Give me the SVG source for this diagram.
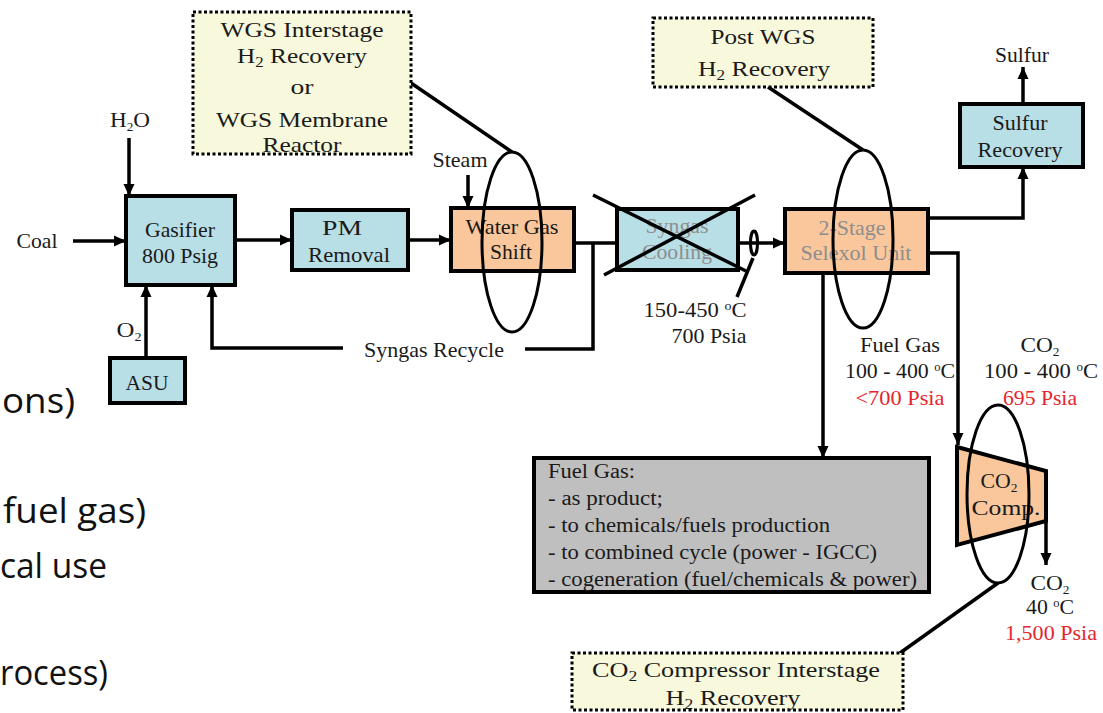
<svg xmlns="http://www.w3.org/2000/svg" width="1103" height="713" viewBox="0 0 1103 713">
<defs>
<marker id="ah" markerUnits="userSpaceOnUse" markerWidth="14" markerHeight="12" refX="12" refY="6" orient="auto">
<path d="M0,0.5 L12,6 L0,11.5 z" fill="#000"/>
</marker>
<style>
text{font-family:"Liberation Serif","Times New Roman",serif;fill:#1a1a1a}
.t{font-size:21px;text-anchor:middle}
.s{font-size:20px}
.red{fill:#e3262c}
.gr{fill:#8e8e8e}
.box{stroke:#000;stroke-width:4}
.teal{fill:#b8dee6}
.peach{fill:#f9c79b}
.note{fill:#f7f8dc;stroke:#000;stroke-width:3;stroke-dasharray:3 2.5}
.ln{fill:none;stroke:#000;stroke-width:3.5}
.ar{fill:none;stroke:#000;stroke-width:3.5;marker-end:url(#ah)}
.el{fill:none;stroke:#000;stroke-width:3}
.side{font-family:"Open Sans","Noto Sans",sans-serif;font-size:34px;fill:#111}
</style>
</defs>
<rect width="1103" height="713" fill="#fff"/>

<g id="side-text">
<text class="side" x="2" y="413" textLength="73" lengthAdjust="spacingAndGlyphs">ons)</text>
<text class="side" x="3" y="523" textLength="143" lengthAdjust="spacingAndGlyphs">fuel gas)</text>
<text class="side" x="0" y="578" textLength="107" lengthAdjust="spacingAndGlyphs">cal use</text>
<text class="side" x="0" y="685" textLength="108" lengthAdjust="spacingAndGlyphs">rocess)</text>
</g>

<g id="connectors">
<line class="ar" x1="73" y1="241" x2="126" y2="241"/>
<line class="ar" x1="129" y1="138" x2="129" y2="196"/>
<line class="ar" x1="146" y1="358" x2="146" y2="285"/>
<polyline class="ar" points="343,348 212,348 212,285"/>
<line class="ar" x1="235" y1="240" x2="292" y2="240"/>
<line class="ar" x1="408" y1="240" x2="451" y2="240"/>
<line class="ar" x1="468" y1="175" x2="468" y2="208"/>
<line class="ln" x1="574" y1="243" x2="617" y2="243"/>
<polyline class="ln" points="525,349 593,349 593,243"/>
<line class="ar" x1="738" y1="243" x2="785" y2="243"/>
<polyline class="ar" points="928,218 1023,218 1023,167"/>
<line class="ar" x1="1023" y1="104" x2="1023" y2="67"/>
<line class="ar" x1="823" y1="273" x2="823" y2="458"/>
<polyline class="ar" points="928,253 958,253 958,445"/>
<line class="ar" x1="1046" y1="521" x2="1046" y2="565"/>
<line class="ln" x1="411" y1="83" x2="512" y2="152" stroke-width="3"/>
<line class="ln" x1="768" y1="87" x2="863" y2="150" stroke-width="3"/>
<line class="ln" x1="998" y1="583" x2="900" y2="653" stroke-width="3"/>
<line class="ln" x1="753" y1="258" x2="737" y2="297" stroke-width="2"/>
</g>

<g id="wgs-interstage-note">
<rect class="note" x="193" y="12" width="218" height="142"/>
<text class="t" x="302" y="37" font-size="22" textLength="163" lengthAdjust="spacingAndGlyphs">WGS Interstage</text>
<text class="t" x="302" y="63" font-size="22" textLength="130" lengthAdjust="spacingAndGlyphs">H<tspan font-size="14" dy="4">2</tspan><tspan dy="-4"> Recovery</tspan></text>
<text class="t" x="302" y="94" font-size="22" textLength="23" lengthAdjust="spacingAndGlyphs">or</text>
<text class="t" x="302" y="127" font-size="22" textLength="172" lengthAdjust="spacingAndGlyphs">WGS Membrane</text>
<text class="t" x="302" y="152" font-size="22" textLength="79" lengthAdjust="spacingAndGlyphs">Reactor</text>
</g>

<g id="post-wgs-note">
<rect class="note" x="653" y="18" width="220" height="69"/>
<text class="t" x="763" y="44" font-size="22" textLength="105" lengthAdjust="spacingAndGlyphs">Post WGS</text>
<text class="t" x="764" y="76" font-size="22" textLength="132" lengthAdjust="spacingAndGlyphs">H<tspan font-size="14" dy="4">2</tspan><tspan dy="-4"> Recovery</tspan></text>
</g>

<g id="gasifier">
<rect class="box teal" x="126" y="196" width="109" height="89"/>
<text class="t" x="180" y="237" textLength="70" lengthAdjust="spacingAndGlyphs">Gasifier</text>
<text class="t" x="180" y="263" textLength="76" lengthAdjust="spacingAndGlyphs">800 Psig</text>
</g>
<g id="h2o-label"><text class="t" x="130" y="127" font-size="19" textLength="40" lengthAdjust="spacingAndGlyphs">H<tspan font-size="12" dy="4">2</tspan><tspan dy="-4">O</tspan></text></g>
<g id="coal-label"><text class="t" x="37" y="248" font-size="20" textLength="41" lengthAdjust="spacingAndGlyphs">Coal</text></g>
<g id="o2-label"><text class="t" x="129" y="337" font-size="19" textLength="25" lengthAdjust="spacingAndGlyphs">O<tspan font-size="12" dy="4">2</tspan></text></g>

<g id="asu">
<rect class="box teal" x="110" y="358" width="75" height="45"/>
<text class="t" x="147" y="390" font-size="18" textLength="43" lengthAdjust="spacingAndGlyphs">ASU</text>
</g>

<g id="pm-removal">
<rect class="box teal" x="292" y="210" width="116" height="60"/>
<text class="t" x="342" y="235" textLength="40" lengthAdjust="spacingAndGlyphs">PM</text>
<text class="t" x="349" y="262" textLength="82" lengthAdjust="spacingAndGlyphs">Removal</text>
</g>

<g id="recycle-label"><text class="t" x="434" y="357" font-size="20" textLength="140" lengthAdjust="spacingAndGlyphs">Syngas Recycle</text></g>

<g id="water-gas-shift">
<rect class="box peach" x="451" y="208" width="123" height="63"/>
<text class="t" x="512" y="234" textLength="93" lengthAdjust="spacingAndGlyphs">Water Gas</text>
<text class="t" x="511" y="259" textLength="42" lengthAdjust="spacingAndGlyphs">Shift</text>
</g>
<g id="steam-label"><text class="t" x="460" y="167" font-size="19" textLength="55" lengthAdjust="spacingAndGlyphs">Steam</text></g>

<g id="syngas-cooling">
<rect class="box teal" x="617" y="209" width="121" height="61"/>
<text class="t gr" x="677" y="233" textLength="63" lengthAdjust="spacingAndGlyphs">Syngas</text>
<text class="t gr" x="677" y="259" textLength="70" lengthAdjust="spacingAndGlyphs">Cooling</text>
<line class="ln" x1="593" y1="195" x2="746" y2="271" stroke-width="3"/>
<line class="ln" x1="755" y1="195" x2="604" y2="275" stroke-width="3"/>
</g>
<g id="cooling-label">
<ellipse class="el" cx="754" cy="243" rx="3.5" ry="12" stroke-width="2"/>
<text class="t" x="695" y="317" font-size="20" textLength="103" lengthAdjust="spacingAndGlyphs">150-450 <tspan font-size="13" dy="-7">o</tspan><tspan dy="7">C</tspan></text>
<text class="t" x="709" y="343" font-size="20" textLength="75" lengthAdjust="spacingAndGlyphs">700 Psia</text>
</g>

<g id="selexol">
<rect class="box peach" x="785" y="209" width="143" height="64"/>
<text class="t gr" x="852" y="235" textLength="67" lengthAdjust="spacingAndGlyphs">2-Stage</text>
<text class="t gr" x="856" y="260" textLength="111" lengthAdjust="spacingAndGlyphs">Selexol Unit</text>
</g>

<g id="sulfur-recovery">
<rect class="box teal" x="960" y="104" width="123" height="63"/>
<text class="t" x="1020" y="130" textLength="55" lengthAdjust="spacingAndGlyphs">Sulfur</text>
<text class="t" x="1020" y="157" textLength="85" lengthAdjust="spacingAndGlyphs">Recovery</text>
</g>
<g id="sulfur-label"><text class="t" x="1022" y="62" font-size="19" textLength="54" lengthAdjust="spacingAndGlyphs">Sulfur</text></g>

<g id="fuel-gas-label">
<text class="t" x="900" y="352" font-size="19" textLength="80" lengthAdjust="spacingAndGlyphs">Fuel Gas</text>
<text class="t" x="900" y="378" font-size="19" textLength="110" lengthAdjust="spacingAndGlyphs">100 - 400 <tspan font-size="12" dy="-7">o</tspan><tspan dy="7">C</tspan></text>
<text class="t red" x="900" y="405" font-size="19" textLength="89" lengthAdjust="spacingAndGlyphs">&lt;700 Psia</text>
</g>
<g id="co2-label">
<text class="t" x="1040" y="352" font-size="19" textLength="39" lengthAdjust="spacingAndGlyphs">CO<tspan font-size="12" dy="4">2</tspan></text>
<text class="t" x="1041" y="378" font-size="19" textLength="114" lengthAdjust="spacingAndGlyphs">100 - 400 <tspan font-size="12" dy="-7">o</tspan><tspan dy="7">C</tspan></text>
<text class="t red" x="1040" y="405" font-size="19" textLength="74" lengthAdjust="spacingAndGlyphs">695 Psia</text>
</g>

<g id="fuel-gas-box">
<rect class="box" x="534" y="458" width="395" height="134" fill="#bfbfbf"/>
<text class="s" x="548" y="478" textLength="87" lengthAdjust="spacingAndGlyphs">Fuel Gas:</text>
<text class="s" x="548" y="505" textLength="115" lengthAdjust="spacingAndGlyphs">- as product;</text>
<text class="s" x="548" y="532" textLength="282" lengthAdjust="spacingAndGlyphs">- to chemicals/fuels production</text>
<text class="s" x="548" y="559" textLength="329" lengthAdjust="spacingAndGlyphs">- to combined cycle (power - IGCC)</text>
<text class="s" x="548" y="586" textLength="369" lengthAdjust="spacingAndGlyphs">- cogeneration (fuel/chemicals &amp; power)</text>
</g>

<g id="co2-compressor">
<polygon class="box peach" points="957,447 1046,471 1046,521 957,545"/>
<text class="t" x="999" y="488" font-size="20" textLength="37" lengthAdjust="spacingAndGlyphs">CO<tspan font-size="13" dy="4">2</tspan></text>
<text class="t" x="1006" y="515" font-size="20" textLength="69" lengthAdjust="spacingAndGlyphs">Comp.</text>
</g>
<g id="co2-out-label">
<text class="t" x="1050" y="590" font-size="19" textLength="39" lengthAdjust="spacingAndGlyphs">CO<tspan font-size="12" dy="4">2</tspan></text>
<text class="t" x="1050" y="614" font-size="19" textLength="48" lengthAdjust="spacingAndGlyphs">40 <tspan font-size="12" dy="-7">o</tspan><tspan dy="7">C</tspan></text>
<text class="t red" x="1051" y="640" font-size="19" textLength="92" lengthAdjust="spacingAndGlyphs">1,500 Psia</text>
</g>

<g id="co2-interstage-note">
<rect class="note" x="572" y="653" width="331" height="57"/>
<text class="t" x="736" y="677" font-size="22" textLength="288" lengthAdjust="spacingAndGlyphs">CO<tspan font-size="14" dy="4">2</tspan><tspan dy="-4"> Compressor Interstage</tspan></text>
<text class="t" x="733" y="705" font-size="22" textLength="135" lengthAdjust="spacingAndGlyphs">H<tspan font-size="14" dy="4">2</tspan><tspan dy="-4"> Recovery</tspan></text>
</g>

<g id="membrane-rings">
<ellipse class="el" cx="512" cy="242" rx="30" ry="90"/>
<ellipse class="el" cx="863" cy="239" rx="30" ry="89"/>
<ellipse class="el" cx="998" cy="494" rx="31" ry="89"/>
</g>
</svg>
